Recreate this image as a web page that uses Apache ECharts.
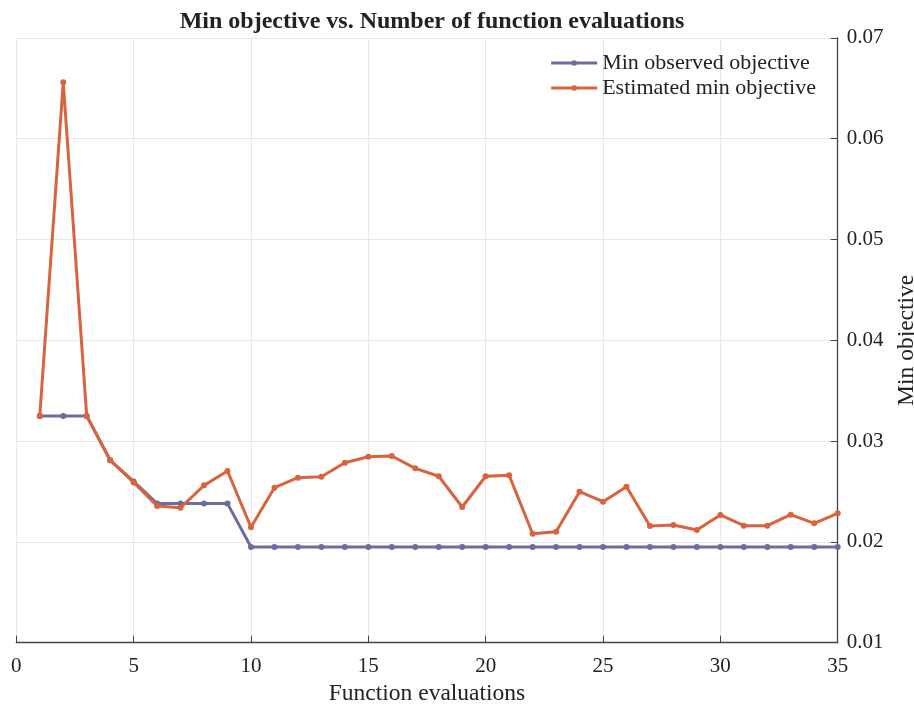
<!DOCTYPE html>
<html>
<head>
<meta charset="utf-8">
<script src="https://cdn.jsdelivr.net/npm/echarts@6/dist/echarts.min.js"></script>
<style>html,body{margin:0;padding:0;background:#fff}#c{width:914px;height:704px}</style>
</head>
<body>
<div id="c"></div>
<script>
const evals = [1,2,3,4,5,6,7,8,9,10,11,12,13,14,15,16,17,18,19,20,21,22,23,24,25,26,27,28,29,30,31,32,33,34,35];
const minObserved = [0.0325,0.0325,0.0325,0.0281,0.0260,0.0238,0.0238,0.0238,0.0238,0.0195,0.0195,0.0195,0.0195,0.0195,0.0195,0.0195,0.0195,0.0195,0.0195,0.0195,0.0195,0.0195,0.0195,0.0195,0.0195,0.0195,0.0195,0.0195,0.0195,0.0195,0.0195,0.0195,0.0195,0.0195,0.0195];
const estimatedMin = [0.0325,0.0656,0.0325,0.0281,0.0259,0.02356,0.02339,0.02561,0.02703,0.02145,0.02538,0.02637,0.02647,0.02786,0.02845,0.02852,0.02730,0.02651,0.02346,0.02651,0.02661,0.02081,0.02101,0.02498,0.02399,0.02548,0.02158,0.02168,0.02118,0.02267,0.02161,0.02161,0.02270,0.02184,0.02284];
const xTicks = [0,5,10,15,20,25,30,35];
const yTicks = [0.01,0.02,0.03,0.04,0.05,0.06,0.07];

const font = 'Liberation Serif';
const chart = echarts.init(document.getElementById('c'));
chart.setOption({
  animation: false,
  title: {
    text: 'Min objective vs. Number of function evaluations',
    left: 427, top: 5, textAlign: 'center',
    textStyle: {fontFamily: font, fontSize: 24, fontWeight: 'bold', color: '#222'}
  },
  legend: {
    right: 93, top: 47, orient: 'vertical', itemGap: 3,
    itemWidth: 46, itemHeight: 7,
    lineStyle: {width: 3},
    textStyle: {fontFamily: font, fontSize: 22, color: '#222'},
    data: ['Min observed objective', 'Estimated min objective']
  },
  grid: {left: 16.3, right: 76.3, top: 37.9, bottom: 61.3, containLabel: false, outerBoundsMode: 'none'},
  xAxis: {
    type: 'value', min: 0, max: 35, interval: 5,
    name: 'Function evaluations', nameLocation: 'middle', nameGap: 37,
    nameTextStyle: {fontFamily: font, fontSize: 23.5, color: '#222'},
    axisLine: {show: true, onZero: false, lineStyle: {color: '#444', width: 1.3}},
    axisTick: {show: true, inside: true, length: 7, lineStyle: {color: '#444'}},
    axisLabel: {fontFamily: font, fontSize: 21, color: '#222', margin: 13,
      formatter: v => xTicks.includes(v) ? String(v) : ''},
    splitLine: {show: true, lineStyle: {color: '#e8e8e8', width: 1}}
  },
  yAxis: {
    type: 'value', position: 'right', min: 0.01, max: 0.07, interval: 0.01,
    name: 'Min objective', nameLocation: 'middle', nameGap: 57, nameRotate: 90,
    nameTextStyle: {fontFamily: font, fontSize: 23.5, color: '#222', verticalAlign: 'bottom'},
    axisLine: {show: true, onZero: false, lineStyle: {color: '#444', width: 1.3}},
    axisTick: {show: true, inside: true, length: 7, lineStyle: {color: '#444'}},
    axisLabel: {fontFamily: font, fontSize: 21, color: '#222', margin: 9,
      formatter: v => { const t = yTicks.find(k => Math.abs(k - v) < 1e-9); return t !== undefined ? t.toFixed(2) : ''; }},
    splitLine: {show: true, lineStyle: {color: '#e8e8e8', width: 1}}
  },
  series: [
    {
      name: 'Min observed objective', type: 'line',
      data: evals.map((x, i) => [x, minObserved[i]]),
      symbol: 'circle', symbolSize: 6, showSymbol: true,
      lineStyle: {color: '#6c6c9e', width: 3},
      itemStyle: {color: '#6c6c9e'}, z: 2
    },
    {
      name: 'Estimated min objective', type: 'line',
      data: evals.map((x, i) => [x, estimatedMin[i]]),
      symbol: 'circle', symbolSize: 6, showSymbol: true,
      lineStyle: {color: '#d9633c', width: 3},
      itemStyle: {color: '#d9633c'}, z: 3
    }
  ]
});
</script>
</body>
</html>
